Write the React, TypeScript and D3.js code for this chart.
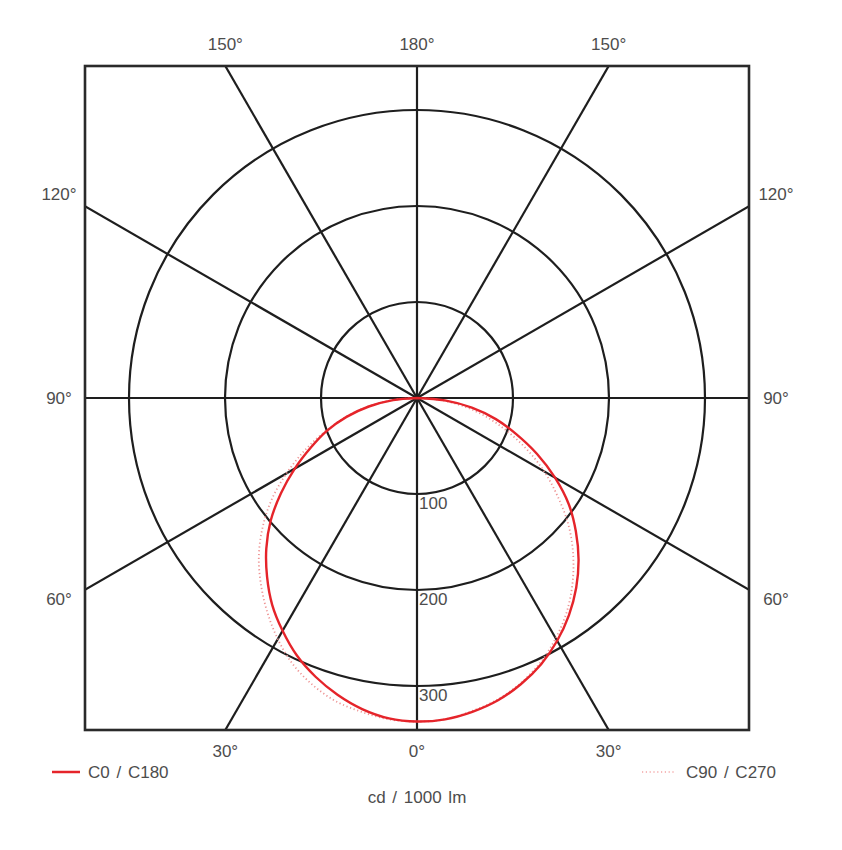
import React from "react";
import * as d3 from "d3";

const angles = [0, 5, 10, 15, 20, 25, 30, 35, 40, 45, 50, 55, 60, 65, 70, 75, 80, 85, 90];
const c0 = [337, 336, 332, 326, 317, 306, 292, 276, 258, 238, 216, 193, 166, 138, 110, 85, 58, 29, 0];
const c180 = [337, 335, 329, 320, 309, 296, 280, 263, 243, 222, 199, 173, 147, 122, 100, 76, 51, 25, 0];
const c90 = [337, 336, 331, 325, 316, 304, 289, 272, 252, 230, 206, 179, 153, 126, 99, 74, 49, 24, 0];
const c270 = [337, 336, 332, 327, 318, 306, 290, 272, 253, 233, 210, 185, 157, 129, 102, 77, 52, 26, 0];
const ringValues = [100, 200, 300];
const spokeAngles = [0, 30, 60, 90, 120, 150, 180, 210, 240, 270, 300, 330];
const topLabels = ["150°", "180°", "150°"];
const bottomLabels = ["30°", "0°", "30°"];
const sideLabels = ["120°", "90°", "60°"];
const legendLabels = ["C0 / C180", "C90 / C270"];
const unitLabel = "cd / 1000 lm";

export default function App() {
  const W = 842, H = 850;
  const cx = 417, cy = 398;
  const half = 332;
  const r = d3.scaleLinear().domain([0, 100]).range([0, 96]);
  const deg = (a: number) => (a * Math.PI) / 180;

  const line = d3
    .lineRadial<[number, number]>()
    .angle((d) => d[0])
    .radius((d) => r(d[1]))
    .curve(d3.curveCatmullRom);

  const build = (left: number[], right: number[]) => {
    const pts: [number, number][] = [];
    for (let i = angles.length - 1; i >= 0; i--) pts.push([Math.PI + deg(angles[i]), left[i]]);
    for (let i = 1; i < angles.length; i++) pts.push([Math.PI - deg(angles[i]), right[i]]);
    return line(pts) || "";
  };

  const font = "'Liberation Sans', Arial, sans-serif";
  const tc = "#4d4d4d";
  const fs = 17;
  const gx = [cx - half * Math.tan(deg(30)), cx, cx + half * Math.tan(deg(30))];
  const sy = [cy - half * Math.tan(deg(30)) - 12, cy, cy + half * Math.tan(deg(30)) + 10];

  return (
    <svg width={W} height={H} style={{ position: "absolute", left: 0, top: 0, background: "#fff" }}>
      <defs>
        <clipPath id="box">
          <rect x={cx - half} y={cy - half} width={half * 2} height={half * 2} />
        </clipPath>
      </defs>
      <g clipPath="url(#box)">
        {spokeAngles.map((a) => (
          <line
            key={a}
            x1={cx}
            y1={cy}
            x2={cx + 600 * Math.sin(deg(a))}
            y2={cy + 600 * Math.cos(deg(a))}
            stroke="#1e1e1e"
            strokeWidth={2.2}
          />
        ))}
        {ringValues.map((v) => (
          <circle key={v} cx={cx} cy={cy} r={r(v)} fill="none" stroke="#1e1e1e" strokeWidth={2.2} />
        ))}
        <g transform={`translate(${cx},${cy})`}>
          <path d={build(c270, c90)} fill="none" stroke="#ee9494" strokeWidth={1.8} strokeDasharray="1.2 2.6" />
          <path d={build(c180, c0)} fill="none" stroke="#e5242a" strokeWidth={2.4} />
        </g>
      </g>
      <rect x={cx - half} y={cy - half} width={half * 2} height={half * 2} fill="none" stroke="#2a2a2a" strokeWidth={2.6} />
      {ringValues.map((v) => (
        <text key={v} x={cx + 2} y={cy + r(v) + 9} fontFamily={font} fontSize={fs} fill={tc} dominantBaseline="central">
          {v}
        </text>
      ))}
      {topLabels.map((t, i) => (
        <text key={"t" + i} x={gx[i]} y={44} textAnchor="middle" dominantBaseline="central" fontFamily={font} fontSize={fs} fill={tc}>
          {t}
        </text>
      ))}
      {bottomLabels.map((t, i) => (
        <text key={"b" + i} x={gx[i]} y={751} textAnchor="middle" dominantBaseline="central" fontFamily={font} fontSize={fs} fill={tc}>
          {t}
        </text>
      ))}
      {sideLabels.map((t, i) => (
        <g key={"s" + i}>
          <text x={59} y={sy[i]} textAnchor="middle" dominantBaseline="central" fontFamily={font} fontSize={fs} fill={tc}>
            {t}
          </text>
          <text x={776} y={sy[i]} textAnchor="middle" dominantBaseline="central" fontFamily={font} fontSize={fs} fill={tc}>
            {t}
          </text>
        </g>
      ))}
      <line x1={52} x2={80} y1={772} y2={772} stroke="#e5242a" strokeWidth={2.5} />
      <text x={88} y={772} dominantBaseline="central" fontFamily={font} fontSize={fs} fill={tc} wordSpacing={2}>
        {legendLabels[0]}
      </text>
      <line x1={642} x2={676} y1={772} y2={772} stroke="#f3a5a5" strokeWidth={1.5} strokeDasharray="1.2 2.6" />
      <text x={686} y={772} dominantBaseline="central" fontFamily={font} fontSize={fs} fill={tc} wordSpacing={2}>
        {legendLabels[1]}
      </text>
      <text x={cx} y={797} textAnchor="middle" dominantBaseline="central" fontFamily={font} fontSize={fs} fill={tc} wordSpacing={2}>
        {unitLabel}
      </text>
    </svg>
  );
}
